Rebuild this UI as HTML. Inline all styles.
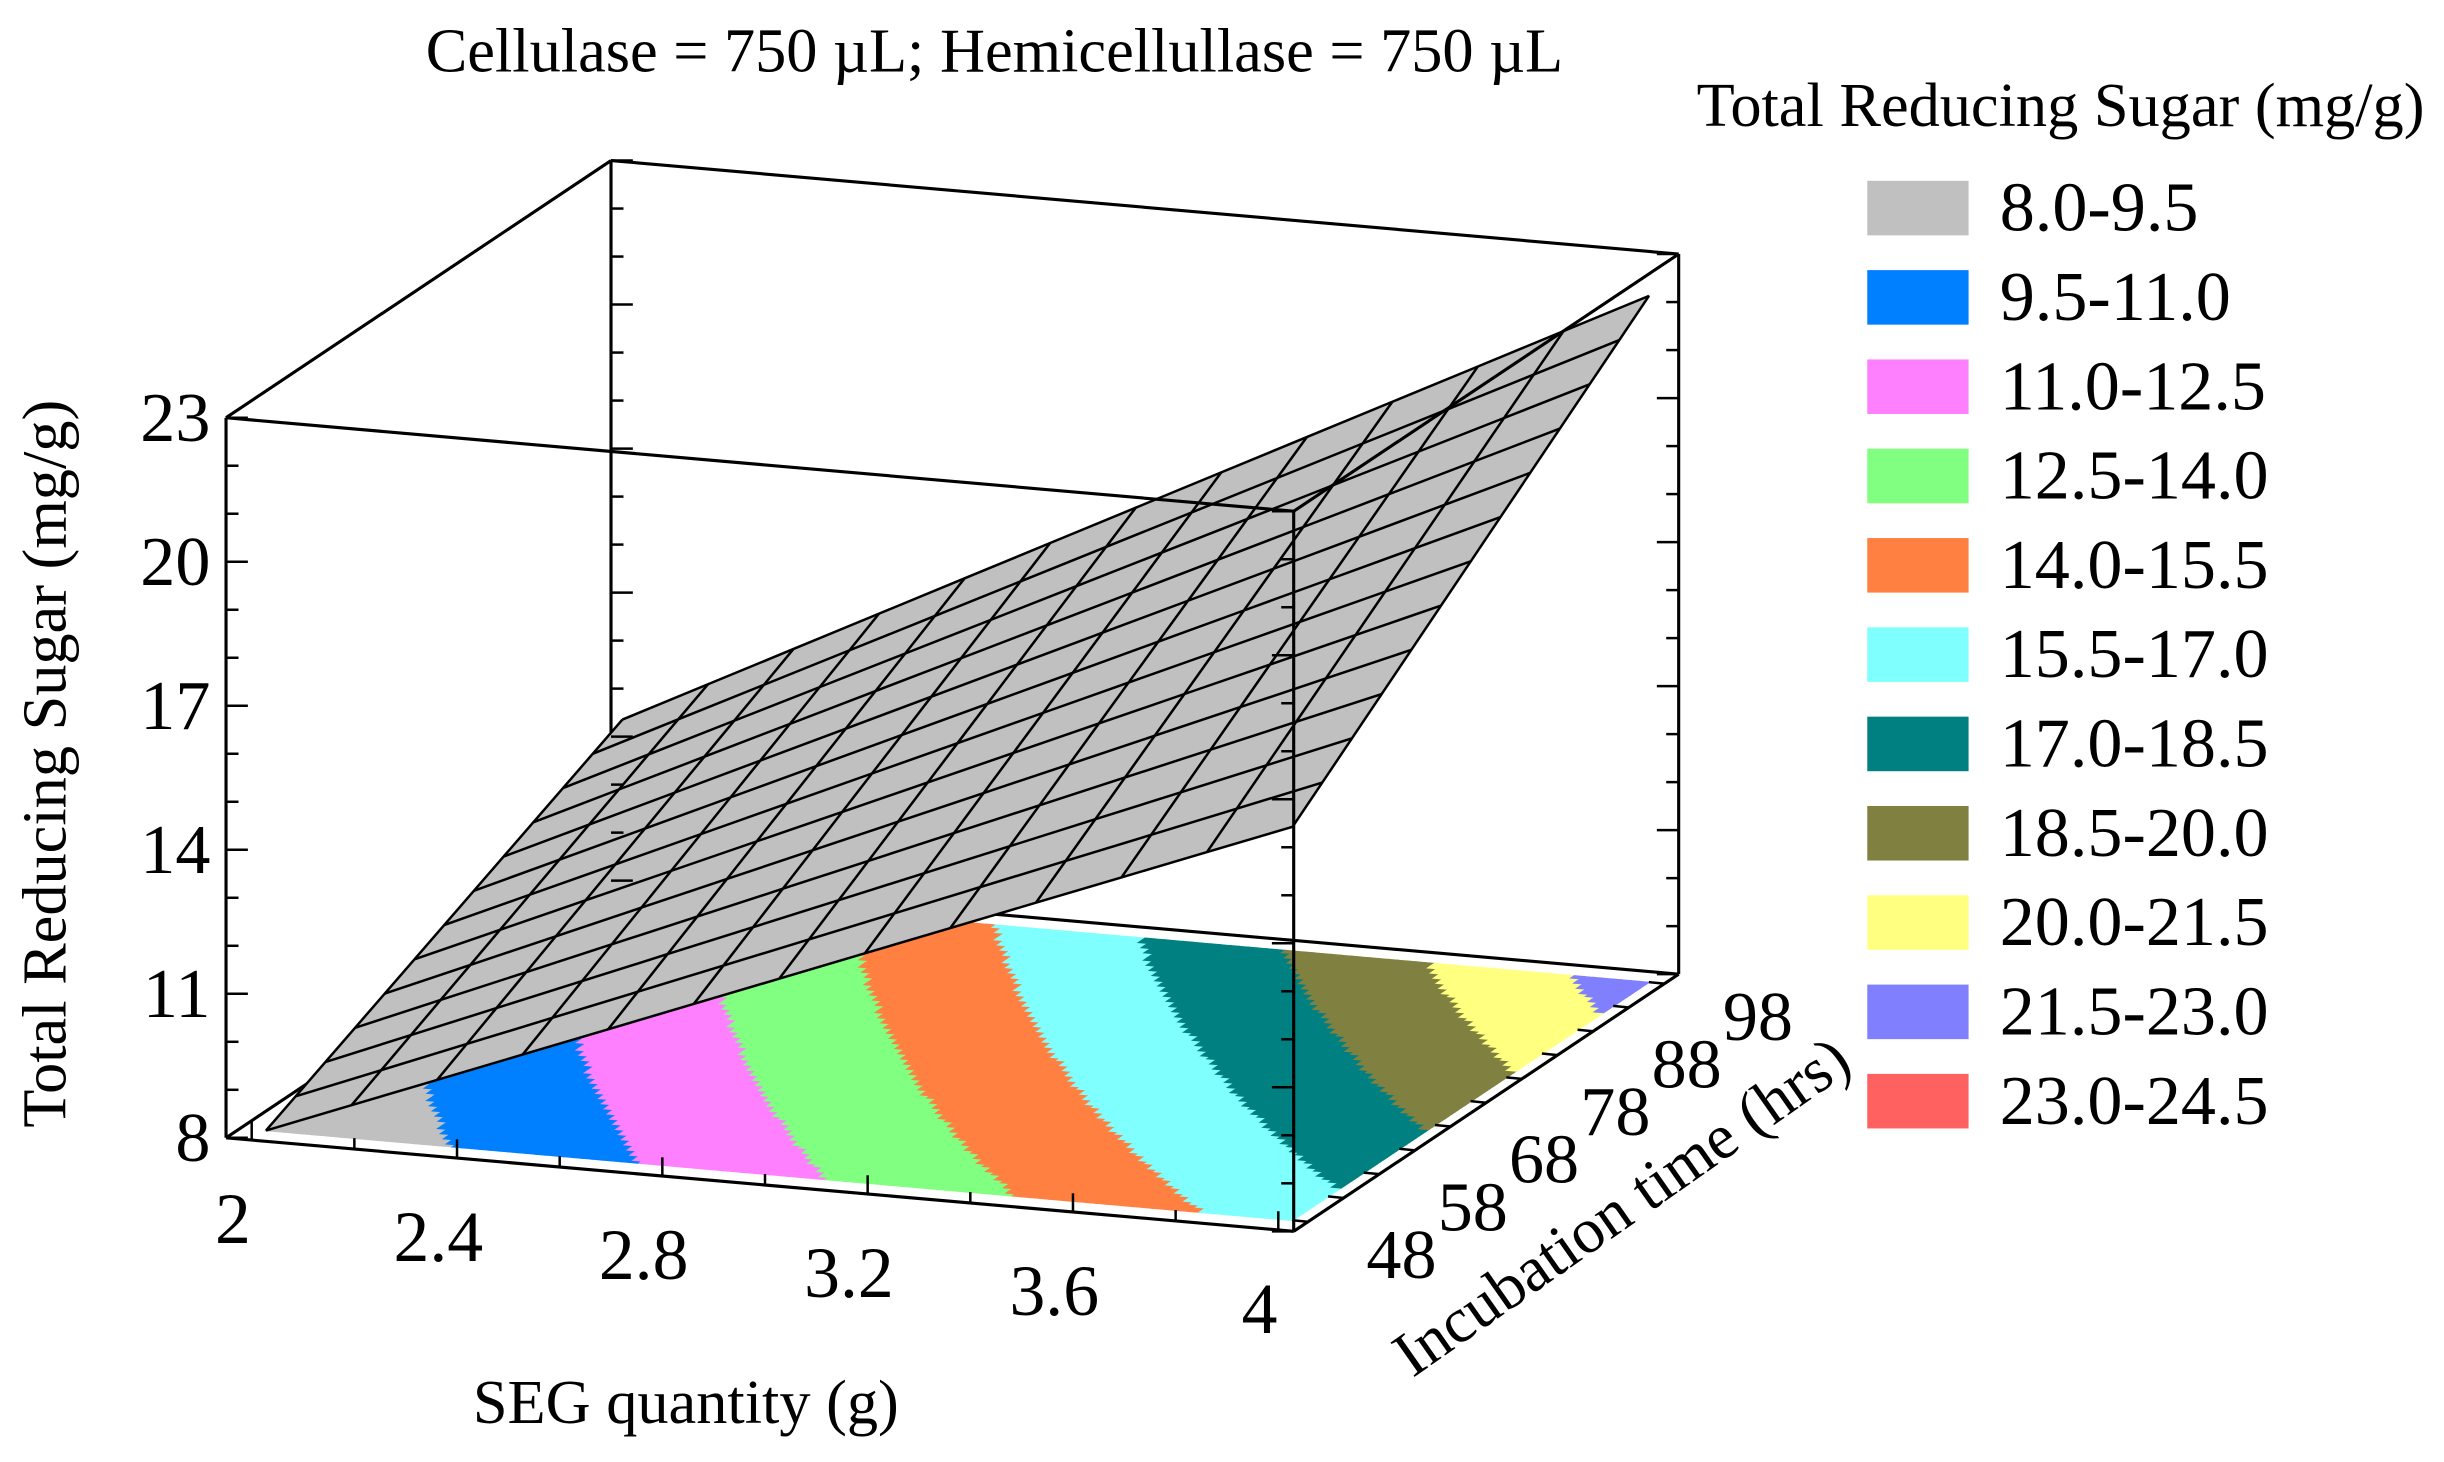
<!DOCTYPE html>
<html><head><meta charset="utf-8"><style>
html,body{margin:0;padding:0;background:#fff;}
svg{display:block;font-family:"Liberation Serif",serif;}
</style></head><body>
<svg id="chart" width="2444" height="1462" viewBox="0 0 1568 938" xmlns="http://www.w3.org/2000/svg">
<text x="638" y="46" font-size="40" text-anchor="middle">Cellulase = 750 µL; Hemicellullase = 750 µL</text>
<g id="back"></g>
<g id="floor"></g>
<g id="surf"></g>
<g id="front"></g>
<g id="labels"></g>
<text transform="translate(42,490) rotate(-90)" font-size="40" text-anchor="middle">Total Reducing Sugar (mg/g)</text>
<text x="440" y="913" font-size="40" text-anchor="middle">SEG quantity (g)</text>
<text transform="translate(1048,785) rotate(-35)" font-size="41" text-anchor="middle">Incubation time (hrs)</text>
<text x="1322" y="81" font-size="40" text-anchor="middle">Total Reducing Sugar (mg/g)</text>
<g id="legend"></g>
</svg>
<script>
// Data
const segValues = [2, 2.4, 2.8, 3.2, 3.6, 4];
const timeValues = [48, 58, 68, 78, 88, 98];
// response grid: rows = SEG value, cols = incubation time
const sugarGrid = [
  [8.00, 8.72, 9.44, 10.16, 10.88, 11.60],
  [9.64, 10.46, 11.28, 12.10, 12.92, 13.74],
  [11.28, 12.20, 13.12, 14.04, 14.96, 15.88],
  [12.92, 13.94, 14.96, 15.98, 17.00, 18.02],
  [14.56, 15.68, 16.80, 17.92, 19.04, 20.16],
  [16.20, 17.42, 18.64, 19.86, 21.08, 22.30]
];
const zTicks = [8, 11, 14, 17, 20, 23];
const xTicks = [2, 2.4, 2.8, 3.2, 3.6, 4];
const tTicks = [48, 58, 68, 78, 88, 98];
const legendLabels = ["8.0-9.5","9.5-11.0","11.0-12.5","12.5-14.0","14.0-15.5","15.5-17.0","17.0-18.5","18.5-20.0","20.0-21.5","21.5-23.0","23.0-24.5"];
const bandStarts = [8.0,9.5,11.0,12.5,14.0,15.5,17.0,18.5,20.0,21.5,23.0];
const bandColors = ["#c0c0c0","#0080ff","#ff80ff","#80ff80","#ff8040","#80ffff","#008080","#808040","#ffff80","#8080ff","#ff6060"];

const NS="http://www.w3.org/2000/svg";
const X0=1.95,X1=4.03,T0=46,T1=100,Z0=8,Z1=23;
const O=[145,730],VX=[685,60],VT=[247,-165],VZ=[0,-462];
function P(x,t,z){const a=(x-X0)/(X1-X0),b=(t-T0)/(T1-T0),c=(z-Z0)/(Z1-Z0);
 return [O[0]+a*VX[0]+b*VT[0]+c*VZ[0], O[1]+a*VX[1]+b*VT[1]+c*VZ[1]];}
function zAt(x,t){
 let fi=(x-segValues[0])/(segValues[segValues.length-1]-segValues[0])*(segValues.length-1);
 let fj=(t-timeValues[0])/(timeValues[timeValues.length-1]-timeValues[0])*(timeValues.length-1);
 let i=Math.min(Math.floor(fi),segValues.length-2),j=Math.min(Math.floor(fj),timeValues.length-2);
 let u=fi-i,v=fj-j;
 return sugarGrid[i][j]*(1-u)*(1-v)+sugarGrid[i+1][j]*u*(1-v)+sugarGrid[i][j+1]*(1-u)*v+sugarGrid[i+1][j+1]*u*v;}
function el(tag,attrs,parent){const e=document.createElementNS(NS,tag);for(const k in attrs)e.setAttribute(k,attrs[k]);parent.appendChild(e);return e;}
function pts(a){return a.map(p=>p[0].toFixed(2)+","+p[1].toFixed(2)).join(" ");}
function color(z){let c=0;for(let k=0;k<bandStarts.length;k++)if(z>=bandStarts[k])c=k;return bandColors[c];}

const back=document.getElementById('back'),floor=document.getElementById('floor'),surf=document.getElementById('surf'),front=document.getElementById('front'),labels=document.getElementById('labels');
const C={FBL:P(X0,T0,Z0),FBR:P(X1,T0,Z0),BBR:P(X1,T1,Z0),BBL:P(X0,T1,Z0),FTL:P(X0,T0,Z1),FTR:P(X1,T0,Z1),BTR:P(X1,T1,Z1),BTL:P(X0,T1,Z1)};
function line(a,b,g,name,w){const l=el('line',{x1:a[0],y1:a[1],x2:b[0],y2:b[1],stroke:'#000','stroke-width':w||2},g);
 
 return l;}
line(C.BTL,C.BBL,back,'back-left-edge');line(C.BBL,C.BBR,back,'back-bottom-edge');line(C.BBL,C.FBL,back,'left-bottom-edge');
// floor contours
const xa=segValues[0],xb=segValues[segValues.length-1],ta=timeValues[0],tb=timeValues[timeValues.length-1];
const N=110;
for(let i=0;i<N;i++)for(let j=0;j<N;j++){
 const x0=xa+(xb-xa)*i/N,x1=xa+(xb-xa)*(i+1)/N,t0=ta+(tb-ta)*j/N,t1=ta+(tb-ta)*(j+1)/N;
 const c=color(zAt((x0+x1)/2,(t0+t1)/2));
 const p=el('polygon',{points:pts([P(x0,t0,Z0),P(x1,t0,Z0),P(x1,t1,Z0),P(x0,t1,Z0)]),fill:c,stroke:c,'stroke-width':0.8},floor);
 
 
}
// surface
const M=12;
const sp=[];
for(let i=0;i<=M;i++){sp.push([]);for(let j=0;j<=M;j++){const x=xa+(xb-xa)*i/M,t=ta+(tb-ta)*j/M;sp[i].push(P(x,t,zAt(x,t)));}}
for(let i=0;i<M;i++)for(let j=0;j<M;j++){
 const p=el('polygon',{points:pts([sp[i][j],sp[i+1][j],sp[i+1][j+1],sp[i][j+1]]),fill:'#c0c0c0',stroke:'#c0c0c0','stroke-width':0.8},surf);
 
 
}
for(let i=0;i<=M;i++){
 const a=el('polyline',{points:pts(sp[i]),fill:'none',stroke:'#000','stroke-width':1.6},surf);
 
 
 const b=el('polyline',{points:pts(sp.map(r=>r[i])),fill:'none',stroke:'#000','stroke-width':1.6},surf);
 
 
}
// front edges
[['FTL','FTR'],['FTR','BTR'],['BTR','BTL'],['BTL','FTL'],['FTL','FBL'],['FTR','FBR'],['BTR','BBR'],['FBL','FBR'],['FBR','BBR']].forEach(e=>line(C[e[0]],C[e[1]],front,'box-edge'));
// z ticks (minor every 1)
for(let z=Z0;z<=Z1;z++){
 const major=zTicks.includes(z);const L=major?14:8;
 [[X0,T0,1],[X1,T0,-1],[X1,T1,-1],[X0,T1,1]].forEach(c=>{const p=P(c[0],c[1],z);
  line(p,[p[0]+c[2]*L,p[1]],front,'z-tick',1.6);});
}
zTicks.forEach(z=>{const p=P(X0,T0,z);const t=el('text',{x:p[0]-10,y:p[1]+15,'font-size':45,'text-anchor':'end'},labels);t.textContent=z;
 
 });
// x ticks
for(let x=2;x<=4.001;x+=0.2){const p=P(x,T0,Z0);line(p,[p[0],p[1]-(Math.abs((x*10)%4)<0.01||Math.abs((x*10)%4-4)<0.01?12:7)],front,'x-tick',1.6);}
xTicks.forEach(x=>{const p=P(x,T0,Z0);const t=el('text',{x:p[0]-12,y:p[1]+66,'font-size':46,'text-anchor':'middle'},labels);t.textContent=x;
 
 });
// t ticks
for(let t=48;t<=98;t+=5){const p=P(X1,t,Z0);line(p,[p[0]-10,p[1]-1],front,'t-tick',1.6);}
tTicks.forEach(tv=>{const p=P(X1,tv,Z0);const t=el('text',{x:p[0]+60,y:p[1]+36,'font-size':45,'text-anchor':'middle'},labels);t.textContent=tv;
 
 });
// legend
const lg=document.getElementById('legend');
legendLabels.forEach((s,k)=>{const y=133+k*57.3;
 const r=el('rect',{x:1198,y:y-17,width:65,height:35,fill:bandColors[k]},lg);
 
 
 const t=el('text',{x:1283,y:y+15,'font-size':45},lg);t.textContent=s;
 
 });
</script>
</body></html>
